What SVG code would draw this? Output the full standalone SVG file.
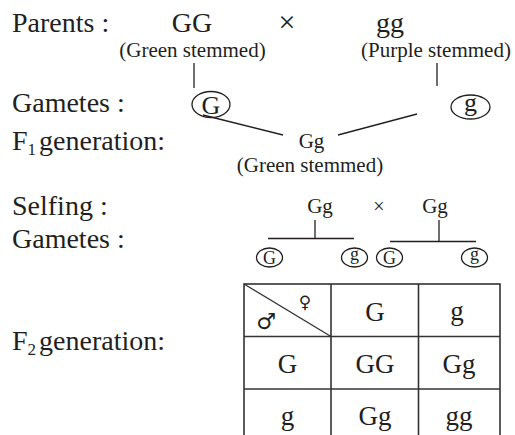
<svg xmlns="http://www.w3.org/2000/svg" width="515" height="435" viewBox="0 0 515 435">
<style>
text{font-family:"Liberation Serif","Times New Roman",serif;fill:#231f20}
.lb{font-size:28px}
.big{font-size:28px;text-anchor:middle}
.gb{font-size:26px;text-anchor:middle}
.sm{font-size:21px;text-anchor:middle}
.gs{font-size:18px;text-anchor:middle}
.tb{font-size:27px;text-anchor:middle}
.sub{font-size:17px}
.ln{stroke:#231f20;stroke-width:1.3;fill:none}
.tl{stroke:#333;stroke-width:1.6;fill:none}
.sym{font-family:"DejaVu Sans",sans-serif;text-anchor:middle}
</style>
<rect width="515" height="435" fill="#fff"/>
<g id="labels">
<text class="lb" x="12" y="32">Parents :</text>
<text class="lb" x="12" y="112">Gametes :</text>
<text class="lb" x="12" y="150">F<tspan class="sub" dy="5">1</tspan><tspan dy="-5" dx="3">generation:</tspan></text>
<text class="lb" x="12" y="215">Selfing :</text>
<text class="lb" x="12" y="248">Gametes :</text>
<text class="lb" x="12" y="350">F<tspan class="sub" dy="5">2</tspan><tspan dy="-5" dx="3">generation:</tspan></text>
</g>
<g id="parent-GG">
<text class="big" x="192" y="32">GG</text>
<text class="sm" x="192.5" y="57">(Green stemmed)</text>
</g>
<g id="cross1"><text class="big" x="287" y="32" style="font-size:30px">×</text></g>
<g id="parent-gg">
<text class="big" x="390" y="32">gg</text>
<text class="sm" x="436" y="57">(Purple stemmed)</text>
</g>
<g id="gamete-G">
<ellipse class="ln" cx="211" cy="104.5" rx="19" ry="13"/>
<text class="gb" x="211" y="113.5">G</text>
</g>
<g id="gamete-g">
<ellipse class="ln" cx="470.5" cy="107" rx="19.5" ry="12"/>
<text class="gb" x="470.5" y="111">g</text>
</g>
<g id="f1">
<text class="sm" x="311.5" y="148">Gg</text>
<text class="sm" x="310" y="172">(Green stemmed)</text>
</g>
<g id="self-left"><text class="sm" x="320" y="213">Gg</text></g>
<g id="cross2"><text class="sm" x="379" y="213" style="font-size:20px">×</text></g>
<g id="self-right"><text class="sm" x="435" y="213">Gg</text></g>
<g id="g2-G1"><ellipse class="ln" cx="269.5" cy="257.5" rx="13" ry="9.5"/><text class="gs" x="269.5" y="263.5">G</text></g>
<g id="g2-g1"><ellipse class="ln" cx="354.5" cy="257.5" rx="13" ry="9.5"/><text class="gs" x="354.5" y="260">g</text></g>
<g id="g2-G2"><ellipse class="ln" cx="389.5" cy="257.5" rx="13" ry="9.5"/><text class="gs" x="389.5" y="263.5">G</text></g>
<g id="g2-g2"><ellipse class="ln" cx="474.5" cy="257.5" rx="13" ry="9.5"/><text class="gs" x="474.5" y="260">g</text></g>
<g id="connectors">
<line class="ln" x1="194" y1="63" x2="194" y2="88"/>
<line class="ln" x1="437" y1="63" x2="437" y2="86"/>
<line class="ln" x1="203" y1="115" x2="283" y2="135"/>
<line class="ln" x1="338" y1="135" x2="417" y2="114"/>
<line class="ln" x1="315" y1="220" x2="315" y2="238.5"/>
<line class="ln" x1="268" y1="238.5" x2="354" y2="238.5"/>
<line class="ln" x1="439" y1="220" x2="439" y2="241.5"/>
<line class="ln" x1="390" y1="241.5" x2="476" y2="241.5"/>
</g>
<g id="punnett">
<rect class="tl" x="244" y="284" width="256" height="160"/>
<line class="tl" x1="331" y1="284" x2="331" y2="444"/>
<line class="tl" x1="418.5" y1="284" x2="418.5" y2="444"/>
<line class="tl" x1="244" y1="336.5" x2="500" y2="336.5"/>
<line class="tl" x1="244" y1="389" x2="500" y2="389"/>
<line class="tl" x1="244" y1="284" x2="331" y2="336.5" style="stroke-width:1.3"/>
<text class="sym" x="305" y="308" style="font-size:17px">♀</text>
<text class="sym" x="266" y="329" style="font-size:22px">♂</text>
<text class="tb" x="375" y="321">G</text>
<text class="tb" x="457" y="320">g</text>
<text class="tb" x="287.5" y="373">G</text>
<text class="tb" x="375" y="373">GG</text>
<text class="tb" x="459" y="373">Gg</text>
<text class="tb" x="287.5" y="425">g</text>
<text class="tb" x="375" y="425">Gg</text>
<text class="tb" x="459" y="425">gg</text>
</g>
</svg>
